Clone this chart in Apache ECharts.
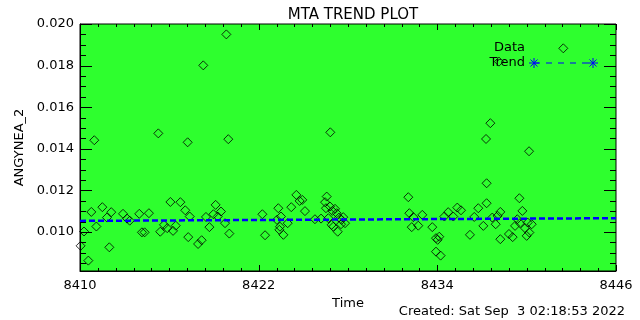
<!DOCTYPE html>
<html>
<head>
<meta charset="utf-8">
<script src="https://cdn.jsdelivr.net/npm/echarts@6/dist/echarts.min.js"></script>
<style>
  html, body { margin: 0; padding: 0; background: #fff; }
  #chart { width: 640px; height: 320px; }
</style>
</head>
<body>
<div id="chart"></div>
<script>
// time (days) and ANGYNEA_2 values
const dataTime = [
  8410.04, 8410.27, 8410.56, 8410.76, 8410.96, 8411.10, 8411.50, 8411.81, 8411.97, 8412.10,
  8412.89, 8413.16, 8413.34, 8413.98, 8414.16, 8414.34, 8414.63, 8415.26, 8415.39, 8415.64,
  8415.86, 8416.07, 8416.25, 8416.43, 8416.74, 8417.07, 8417.23, 8417.27, 8417.37, 8417.93,
  8418.17, 8418.28, 8418.46, 8418.69, 8418.96, 8419.11, 8419.25, 8419.47, 8419.74, 8419.83,
  8419.96, 8420.03, 8422.25, 8422.43, 8423.23, 8423.32, 8423.39, 8423.43, 8423.50, 8423.66,
  8423.95, 8424.19, 8424.53, 8424.75, 8424.93, 8425.11, 8425.78, 8426.19, 8426.46, 8426.52,
  8426.57, 8426.68, 8426.79, 8426.81, 8426.90, 8426.95, 8427.01, 8427.13, 8427.24, 8427.31,
  8427.39, 8427.53, 8427.57, 8427.68, 8427.80, 8432.05, 8432.12, 8432.28, 8432.39, 8432.72,
  8432.99, 8433.66, 8433.91, 8433.91, 8434.02, 8434.13, 8434.22, 8434.47, 8434.73, 8435.07,
  8435.34, 8435.59, 8436.19, 8436.48, 8436.75, 8437.09, 8437.27, 8437.31, 8437.31, 8437.56,
  8437.69, 8437.92, 8438.05, 8438.14, 8438.23, 8438.23, 8438.81, 8439.06, 8439.22, 8439.37,
  8439.51, 8439.55, 8439.71, 8439.89, 8440.00, 8440.07, 8440.16, 8440.18, 8440.34, 8442.46
]
const dataValue = [
  0.00933, 0.01002, 0.00862, 0.01096, 0.01441, 0.01026, 0.01119, 0.01069, 0.00926, 0.01095,
  0.01087, 0.01064, 0.01054, 0.01087, 0.00998, 0.00998, 0.01090, 0.01474, 0.01001, 0.01034,
  0.01018, 0.01144, 0.01005, 0.01030, 0.01143, 0.01104, 0.01431, 0.00975, 0.01074, 0.00942,
  0.00960, 0.01801, 0.01072, 0.01023, 0.01085, 0.01130, 0.01074, 0.01098, 0.01042, 0.01950,
  0.01446, 0.00992, 0.01085, 0.00984, 0.01058, 0.01114, 0.01010, 0.01025, 0.01074, 0.00986,
  0.01042, 0.01119, 0.01178, 0.01149, 0.01154, 0.01100, 0.01061, 0.01064, 0.01143, 0.01114,
  0.01170, 0.01066, 0.01122, 0.01479, 0.01034, 0.01101, 0.01025, 0.01111, 0.01090, 0.01001,
  0.01069, 0.01037, 0.01058, 0.01071, 0.01042, 0.01167, 0.01090, 0.01023, 0.01071, 0.01030,
  0.01082, 0.01023, 0.00970, 0.00905, 0.00962, 0.00977, 0.00886, 0.01074, 0.01095, 0.01074,
  0.01117, 0.01104, 0.00986, 0.01072, 0.01114, 0.01029, 0.01447, 0.01234, 0.01138, 0.01523,
  0.01069, 0.01037, 0.01077, 0.01819, 0.01096, 0.00965, 0.00990, 0.00975, 0.01029, 0.01061,
  0.01162, 0.01042, 0.01101, 0.01018, 0.00981, 0.01045, 0.01388, 0.00997, 0.01037, 0.01883
]

// linear trend, end points
const trendTime = [8410, 8446]
const trendValue = [0.01053, 0.01066]

// tick labels
const xTicks = [8410, 8422, 8434, 8446]
const yTicks = [0.010, 0.012, 0.014, 0.016, 0.018, 0.020]

const xMin = 8410, xMax = 8446
const yMin = 0.00812, yMax = 0.0200

// minor ticks: x every 1.2 days, y every 0.0005
let xMinor = []
for (let i = 1; i < 30; i++) {
    if (i % 10 !== 0) xMinor.push(Math.round((8410 + i * 1.2) * 100) / 100)
}
let yMinor = []
for (let i = 17; i <= 39; i++) {
    if (i % 4 !== 0) yMinor.push(Math.round(i * 5) / 10000)
}

const points = dataTime.map((t, i) => [t, dataValue[i]])
const trend = trendTime.map((t, i) => [t, trendValue[i]])

const font = 'DejaVu Sans'

// legend asterisk as four short strokes
function star(cx, cy, r) {
    const d = r * 0.7
    return [
        [cx - r, cy, cx + r, cy], [cx, cy - r, cx, cy + r],
        [cx - d, cy - d, cx + d, cy + d], [cx - d, cy + d, cx + d, cy - d]
    ].map(s => ({
        type: 'line', z: 20,
        shape: { x1: s[0], y1: s[1], x2: s[2], y2: s[3] },
        style: { stroke: '#0000ff', lineWidth: 1 }
    }))
}

const legendAndFooter = [
    {
        type: 'text', x: 525, y: 48, z: 20,
        style: { text: 'Data', fill: '#000', font: '13px "DejaVu Sans"', textAlign: 'right', textVerticalAlign: 'middle' }
    },
    {
        type: 'text', x: 525, y: 63, z: 20,
        style: { text: 'Trend', fill: '#000', font: '13px "DejaVu Sans"', textAlign: 'right', textVerticalAlign: 'middle' }
    },
    {
        type: 'line', z: 20,
        shape: { x1: 534, y1: 63, x2: 593, y2: 63 },
        style: { stroke: '#0000ff', lineWidth: 1, lineDash: [6, 6] }
    },
    ...star(534, 63, 5),
    ...star(593, 63, 5),
    {
        type: 'text', x: 625, y: 312, z: 20,
        style: { text: 'Created: Sat Sep  3 02:18:53 2022', fill: '#000', font: '13px "DejaVu Sans"', textAlign: 'right', textVerticalAlign: 'middle' }
    }
]

const chart = echarts.init(document.getElementById('chart'))
const option = {
    animation: false,
    backgroundColor: '#fff',
    title: {
        text: 'MTA TREND PLOT', left: 348, top: 3, textAlign: 'center',
        textStyle: { color: '#000', fontFamily: font, fontSize: 15, fontWeight: 'normal' }
    },
    grid: {
        left: 80, right: 24, top: 24, bottom: 49,
        show: true, backgroundColor: '#2eff2e', borderColor: '#000', borderWidth: 1
    },
    xAxis: {
        type: 'value', min: xMin, max: xMax,
        axisLine: { show: true, onZero: false, lineStyle: { color: '#000', width: 1 } },
        axisTick: { show: false },
        axisLabel: {
            customValues: xTicks, margin: 8,
            color: '#000', fontFamily: font, fontSize: 13,
            formatter: v => String(v)
        },
        splitLine: { show: false },
        name: 'Time', nameLocation: 'middle', nameGap: 24,
        nameTextStyle: { color: '#000', fontFamily: font, fontSize: 13 }
    },
    yAxis: {
        type: 'value', min: yMin, max: yMax,
        axisLine: { show: true, onZero: false, lineStyle: { color: '#000', width: 1 } },
        axisTick: { show: false },
        axisLabel: {
            customValues: yTicks, margin: 6,
            color: '#000', fontFamily: font, fontSize: 13,
            formatter: v => v.toFixed(3)
        },
        splitLine: { show: false },
        name: 'ANGYNEA_2', nameLocation: 'middle', nameGap: 50,
        nameTextStyle: { color: '#000', fontFamily: font, fontSize: 13 }
    },
    series: [
        {
            name: 'Data',
            type: 'scatter',
            data: points,
            symbol: 'diamond',
            symbolSize: 9,
            itemStyle: { color: 'rgba(0,0,0,0)', borderColor: '#000', borderWidth: 1 }
        },
        {
            name: 'Trend',
            type: 'line',
            data: trend,
            symbol: 'none',
            lineStyle: { color: '#0000ff', width: 2.5, type: [6, 3] },
            z: 3
        }
    ],
    graphic: legendAndFooter
}
chart.setOption(option)

// inward ticks on all four sides, positioned through the chart's own scales
function tick(x1, y1, x2, y2) {
    return { type: 'line', z: 15, shape: { x1: x1, y1: y1, x2: x2, y2: y2 }, style: { stroke: '#000', lineWidth: 1 } }
}
let ticks = []
function addXTicks(vals, len) {
    vals.forEach(v => {
        const b = chart.convertToPixel({ gridIndex: 0 }, [v, yMin])
        const t = chart.convertToPixel({ gridIndex: 0 }, [v, yMax])
        const x = Math.round(b[0]) + 0.5
        ticks.push(tick(x, b[1], x, b[1] - len), tick(x, t[1], x, t[1] + len))
    })
}
function addYTicks(vals, len) {
    vals.forEach(v => {
        const l = chart.convertToPixel({ gridIndex: 0 }, [xMin, v])
        const r = chart.convertToPixel({ gridIndex: 0 }, [xMax, v])
        const y = Math.round(l[1]) + 0.5
        ticks.push(tick(l[0], y, l[0] + len, y), tick(r[0], y, r[0] - len, y))
    })
}
addXTicks(xTicks, 6)
addXTicks(xMinor, 3)
addYTicks(yTicks, 12)
addYTicks(yMinor, 6)
chart.setOption({ graphic: legendAndFooter.concat(ticks) })
</script>
</body>
</html>
